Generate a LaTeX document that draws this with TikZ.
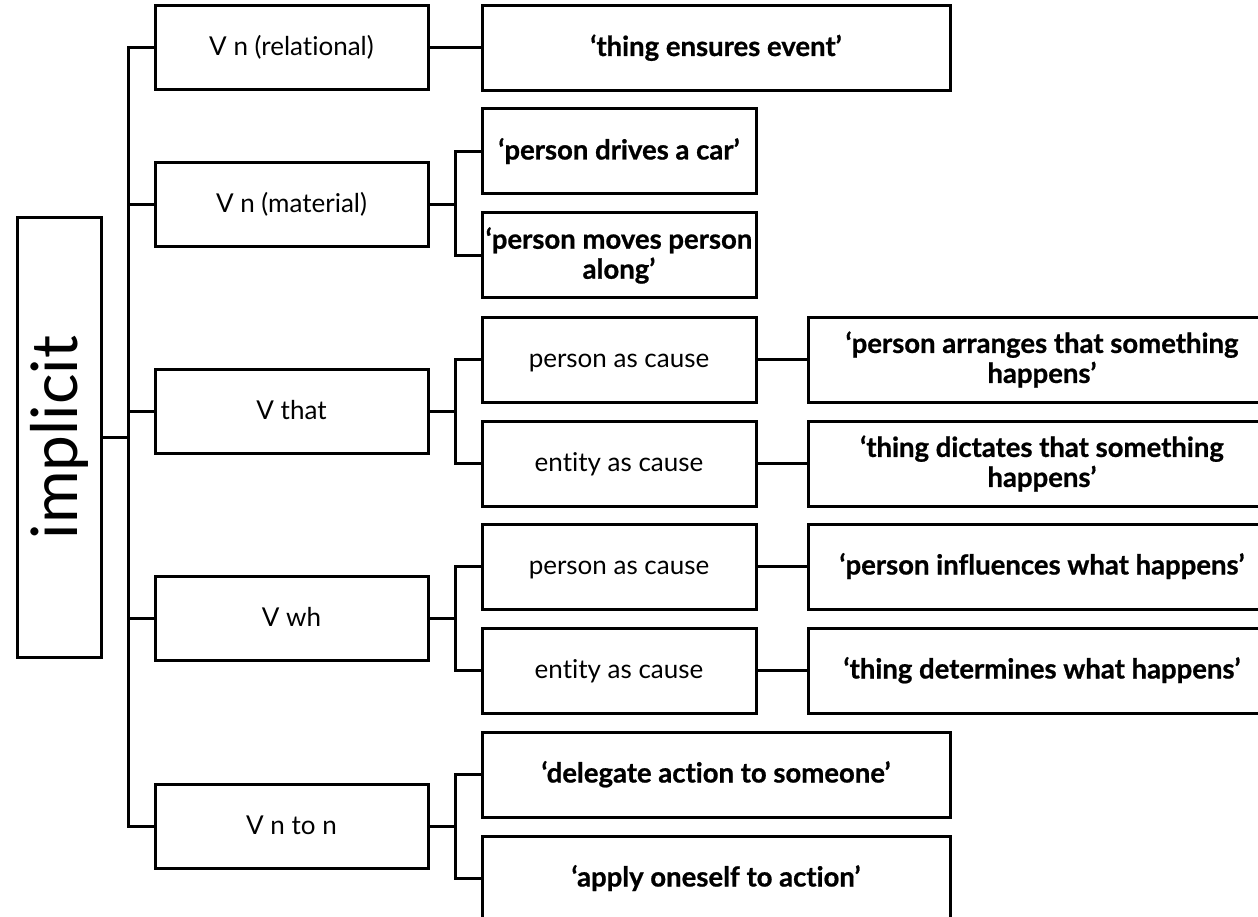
\documentclass[tikz,border=0pt]{standalone}
\usepackage{fontspec}
\setmainfont{Lato}[Ligatures={NoCommon}, BoldFeatures={FakeBold=0.8}]
\begin{document}
\begin{tikzpicture}[x=1pt,y=-1pt,
  every node/.style={inner sep=0pt, align=center},
  base/.style={draw=black, line width=3pt, rectangle, fill=white,
    font=\fontsize{26}{30}\selectfont},
  oneline/.style={text height=20pt, text depth=4pt},
  lvlone/.style={base, oneline, minimum width=273pt, minimum height=84pt},
  narrow/.style={base, oneline, minimum width=274pt, minimum height=85pt},
  widetwo/.style={base, minimum width=468pt, minimum height=85pt,
    font=\fontsize{27.5}{30}\selectfont\bfseries},
  wide/.style={widetwo, oneline},
  narrowb/.style={base, minimum width=274pt, minimum height=85pt,
    font=\fontsize{27.5}{30}\selectfont\bfseries},
  link/.style={draw=black, line width=3pt, line join=miter}]

\clip (0,0) rectangle (1258,917);
\fill[white] (0,0) rectangle (1258,917);

% guide coordinates for the vertical spines
\coordinate (s1) at (128,0);
\coordinate (s2) at (455,0);

% root
\node[base, minimum width=84pt, minimum height=439pt] (imp) at (59,437.5)
  {\rotatebox{90}{\fontsize{64}{70}\selectfont implicit}};

% first level
\node[lvlone] (rel)  at (291.5,48)   {V n (relational)};
\node[lvlone] (mat)  at (291.5,204.5) {V n (material)};
\node[lvlone] (that) at (291.5,411)  {V that};
\node[lvlone] (wh)   at (291.5,618.5) {V wh};
\node[lvlone] (nton) at (291.5,826)  {V n to n};

% second level
\node[wide]    (ens)   at (716,48)    {‘thing ensures event’};
\node[narrowb, oneline] (drv) at (619,151.5) {‘person drives a car’};
\node[narrowb] (mov)   at (619,255.5) {‘person moves person\\along’};
\node[narrow]  (pthat) at (619,359.5) {person as cause};
\node[narrow]  (ethat) at (619,463.5) {entity as cause};
\node[narrow]  (pwh)   at (619,566.5) {person as cause};
\node[narrow]  (ewh)   at (619,670.5) {entity as cause};
\node[wide]    (dlg)   at (716,774.5) {‘delegate action to someone’};
\node[wide]    (apl)   at (716,878.5) {‘apply oneself to action’};

% third level
\node[widetwo] (arr) at (1042,359.5) {‘person arranges that something\\happens’};
\node[widetwo] (dic) at (1042,463.5) {‘thing dictates that something\\happens’};
\node[wide] (inf) at (1042,566.5) {‘person influences what happens’};
\node[wide] (det) at (1042,670.5) {‘thing determines what happens’};

% root spine
\draw[link] (imp.east) -- (imp.east -| s1);
\draw[link] (rel.west) -- (rel.west -| s1) |- (nton.west);
\draw[link] (mat.west) -- (mat.west -| s1);
\draw[link] (that.west) -- (that.west -| s1);
\draw[link] (wh.west) -- (wh.west -| s1);

% first to second level
\draw[link] (rel.east) -- (ens.west);
\draw[link] (mat.east) -- (mat.east -| s2);
\draw[link] (drv.west) -- (drv.west -| s2) |- (mov.west);
\draw[link] (that.east) -- (that.east -| s2);
\draw[link] (pthat.west) -- (pthat.west -| s2) |- (ethat.west);
\draw[link] (wh.east) -- (wh.east -| s2);
\draw[link] (pwh.west) -- (pwh.west -| s2) |- (ewh.west);
\draw[link] (nton.east) -- (nton.east -| s2);
\draw[link] (dlg.west) -- (dlg.west -| s2) |- (apl.west);

% second to third level
\draw[link] (pthat.east) -- (arr.west);
\draw[link] (ethat.east) -- (dic.west);
\draw[link] (pwh.east) -- (inf.west);
\draw[link] (ewh.east) -- (det.west);
\end{tikzpicture}
\end{document}
